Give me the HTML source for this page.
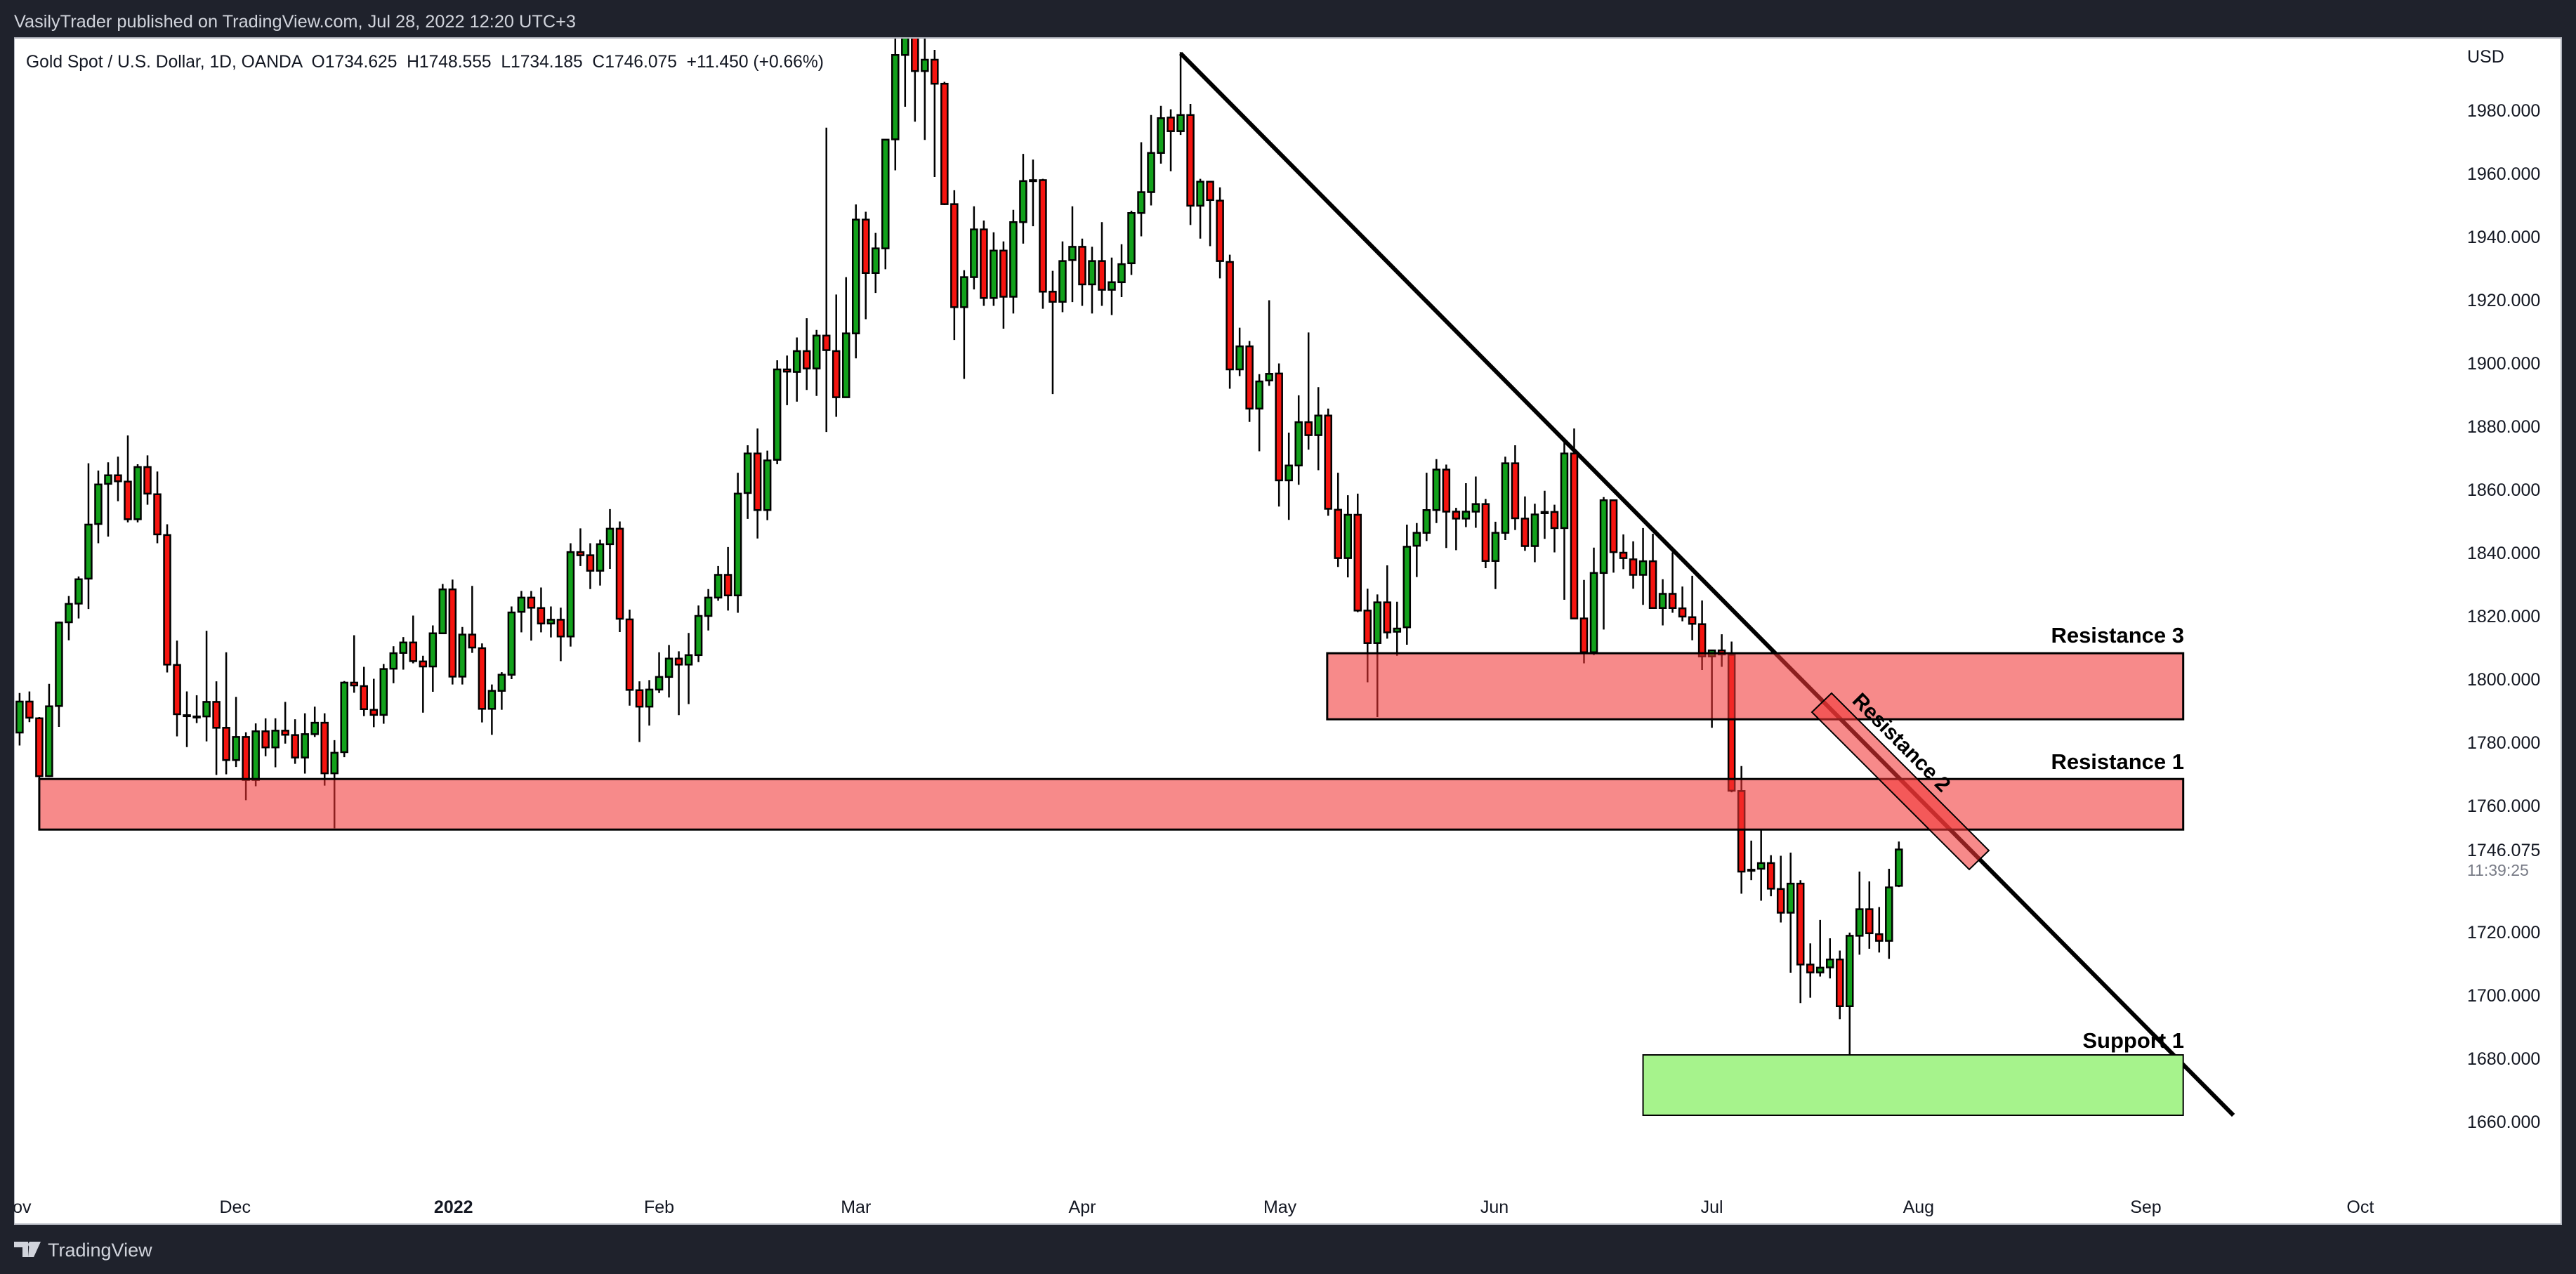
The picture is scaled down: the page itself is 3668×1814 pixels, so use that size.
<!DOCTYPE html>
<html><head><meta charset="utf-8"><style>
html,body{margin:0;padding:0;background:#1f222c;}
svg{display:block;}
</style></head><body>
<svg id="chart" width="3668" height="1814" viewBox="0 0 3668 1814" xmlns="http://www.w3.org/2000/svg">
<rect x="0" y="0" width="3668" height="1814" fill="#1f222c"/>
<text x="20" y="39" fill="#d1d4dc" font-family="Liberation Sans, sans-serif" font-size="25" textLength="800" lengthAdjust="spacingAndGlyphs">VasilyTrader published on TradingView.com, Jul 28, 2022 12:20 UTC+3</text>
<rect x="20" y="54" width="3627" height="1689" fill="#ffffff" stroke="#b2b5be" stroke-width="2"/>
<defs><clipPath id="pane"><rect x="21" y="55" width="3476" height="1640"/></clipPath></defs>
<g id="xlabels" font-family="Liberation Sans, sans-serif" font-size="25" fill="#131722"></g>
<g id="ylabels" font-family="Liberation Sans, sans-serif" font-size="25" fill="#131722"></g>
<text x="3513" y="89" font-family="Liberation Sans, sans-serif" font-size="25" fill="#131722">USD</text>
<g clip-path="url(#pane)">
<line id="trend" stroke="#000" stroke-width="6"/>
<g id="candles"></g>
<rect id="res3" fill="rgba(242,54,54,0.58)" stroke="#000" stroke-width="3"/>
<rect id="res1" fill="rgba(242,54,54,0.58)" stroke="#000" stroke-width="3"/>
<rect id="sup1" fill="#a6f38c" stroke="#000" stroke-width="2"/>
<polygon points="2608,987 2580,1014 2804,1238 2832,1211" fill="rgba(242,54,54,0.58)" stroke="#000" stroke-width="2"/>
</g>
<text x="3110" y="915" text-anchor="end" font-family="Liberation Sans, sans-serif" font-weight="bold" font-size="31" fill="#000">Resistance 3</text>
<text x="3110" y="1095" text-anchor="end" font-family="Liberation Sans, sans-serif" font-weight="bold" font-size="31" fill="#000">Resistance 1</text>
<text x="3110" y="1492" text-anchor="end" font-family="Liberation Sans, sans-serif" font-weight="bold" font-size="31" fill="#000">Support 1</text>
<text x="0" y="0" transform="translate(2636,999) rotate(45.3)" font-family="Liberation Sans, sans-serif" font-weight="bold" font-size="30" fill="#000">Resistance 2</text>
<text x="37" y="96" font-family="Liberation Sans, sans-serif" font-size="25" fill="#131722" textLength="1136" lengthAdjust="spacingAndGlyphs" xml:space="preserve">Gold Spot / U.S. Dollar, 1D, OANDA  O1734.625  H1748.555  L1734.185  C1746.075  +11.450 (+0.66%)</text>
<text x="3513" y="1219" font-family="Liberation Sans, sans-serif" font-size="25" fill="#131722">1746.075</text>
<text x="3513" y="1247" font-family="Liberation Sans, sans-serif" font-size="23" fill="#787b86">11:39:25</text>
<g>
<path d="M20 1768 H40 V1790 H32 V1776 H20 Z M42 1768 H58 L48 1790 H40 Z" fill="#d1d4dc"/>
<circle cx="44" cy="1772" r="4" fill="#d1d4dc"/>
<text x="68" y="1789" font-family="Liberation Sans, sans-serif" font-size="27" fill="#d1d4dc">TradingView</text>
</g>
</svg>
<script>
const opens=[1783.1,1792.9,1787.6,1769.3,1791.5,1818.0,1823.9,1831.8,1849.1,1861.8,1864.5,1862.5,1850.6,1867.1,1858.5,1845.6,1804.5,1788.6,1788.2,1788.2,1792.8,1784.6,1774.4,1781.7,1768.1,1783.5,1778.4,1783.7,1782.3,1775.2,1782.6,1786.2,1770.2,1776.9,1798.9,1797.8,1790.3,1788.7,1803.3,1808.3,1811.6,1805.6,1804.0,1814.5,1828.4,1800.8,1814.1,1809.8,1790.6,1796.3,1801.4,1821.3,1825.8,1822.5,1817.6,1818.8,1813.5,1840.2,1839.2,1834.3,1842.7,1847.6,1818.9,1796.5,1791.3,1796.7,1800.7,1806.5,1804.6,1807.6,1820.0,1825.8,1833.0,1826.5,1858.9,1871.4,1853.5,1869.4,1898.0,1897.2,1903.8,1898.3,1908.7,1903.8,1889.2,1909.4,1945.4,1928.5,1936.3,1970.8,1997.5,2050,1992.4,1996.0,1988.4,1950.3,1917.7,1927.2,1942.3,1920.6,1935.6,1921.0,1944.6,1957.9,1957.9,1922.6,1919.4,1932.6,1936.8,1924.9,1932.3,1923.2,1925.6,1931.6,1947.5,1954.1,1966.5,1977.7,1973.4,1978.5,1949.8,1957.4,1951.4,1932.0,1898.0,1905.3,1885.6,1894.5,1896.7,1862.9,1867.6,1881.3,1877.2,1883.4,1853.6,1838.3,1852.0,1821.7,1811.4,1824.3,1815.0,1816.4,1842.2,1846.3,1853.5,1866.3,1853.0,1850.8,1853.0,1855.4,1837.4,1846.3,1868.3,1850.8,1842.1,1852.5,1852.9,1847.8,1871.4,1819.2,1808.5,1833.6,1856.6,1840.0,1837.9,1833.0,1837.3,1822.5,1827.0,1822.4,1819.6,1817.4,1807.2,1809.1,1807.7,1764.6,1739.4,1740.0,1741.8,1733.6,1726.1,1735.3,1709.7,1707.2,1708.8,1711.3,1696.5,1718.8,1727.2,1719.3,1717.2,1734.6];
const highs=[1795.6,1796.1,1788.0,1798.5,1818.2,1826.3,1832.5,1868.3,1866.0,1868.6,1870.4,1877.1,1868.0,1870.8,1865.7,1849.0,1812.2,1796.1,1794.9,1815.3,1799.3,1808.5,1794.4,1783.2,1786.0,1787.6,1787.6,1792.8,1787.3,1789.2,1791.3,1789.2,1780.7,1799.4,1813.9,1803.9,1800.1,1804.8,1810.4,1813.3,1820.1,1807.4,1817.0,1830.1,1831.5,1816.5,1829.5,1811.3,1798.3,1802.2,1823.0,1827.9,1827.9,1829.0,1823.0,1822.6,1843.0,1847.7,1843.0,1844.1,1853.8,1849.9,1822.0,1799.3,1799.7,1808.5,1810.8,1808.8,1814.6,1823.3,1828.5,1835.8,1841.8,1865.3,1874.0,1879.3,1872.3,1900.9,1902.4,1908.1,1914.2,1910.5,1974.5,1921.7,1927.2,1950.2,1947.9,1941.2,1970.7,2002.8,2070,2070,2003,1999.1,1989.0,1954.7,1929.4,1949.6,1945.1,1941.4,1938.5,1948.5,1966.2,1964.4,1958.3,1929.2,1938.5,1949.6,1939.4,1936.8,1944.6,1933.4,1937.6,1948.2,1969.9,1978.5,1981.4,1980.3,1998.4,1982.0,1958.3,1957.4,1955.6,1934.3,1911.2,1907.0,1896.5,1919.9,1899.9,1878.0,1889.8,1909.7,1892.4,1885.6,1865.3,1858.2,1858.7,1828.6,1826.8,1836.0,1824.5,1848.9,1849.4,1865.3,1869.6,1867.9,1854.2,1862.0,1864.1,1857.0,1849.8,1870.4,1874.0,1857.8,1855.5,1859.6,1855.2,1875.2,1879.3,1831.4,1841.6,1857.6,1856.6,1845.8,1843.6,1847.8,1846.0,1831.6,1840.1,1829.3,1832.7,1824.9,1809.1,1814.2,1811.9,1772.5,1748.9,1752.3,1744.3,1744.1,1745.1,1736.4,1716.4,1723.8,1718.0,1714.1,1719.8,1739.1,1736.0,1727.9,1740.0,1748.6];
const lows=[1779.0,1786.4,1768.0,1769.0,1784.9,1812.3,1819.2,1822.2,1843.0,1845.1,1856.3,1849.6,1849.6,1855.2,1843.0,1802.1,1781.9,1778.5,1786.1,1780.3,1769.7,1769.9,1772.2,1761.7,1766.1,1775.6,1772.1,1779.6,1773.2,1770.1,1781.7,1766.3,1752.8,1775.3,1795.7,1788.3,1784.8,1785.9,1798.7,1803.0,1805.0,1789.4,1796.0,1814.3,1798.3,1798.3,1808.3,1786.3,1782.4,1790.3,1800.0,1814.8,1812.2,1814.8,1813.2,1805.7,1810.3,1835.8,1828.5,1829.6,1834.9,1814.9,1791.6,1780.1,1785.3,1795.6,1794.2,1788.6,1792.1,1805.4,1815.4,1824.8,1821.7,1821.0,1850.7,1844.5,1850.3,1868.0,1886.7,1887.8,1891.5,1889.6,1878.2,1883.0,1889.2,1901.5,1913.9,1922.2,1929.7,1961.0,1981.1,1976.4,1970.6,1958.9,1950.0,1907.3,1895.0,1923.3,1918.1,1918.1,1910.9,1915.7,1937.8,1943.3,1917.2,1890.2,1916.1,1919.3,1918.1,1915.7,1918.1,1915.2,1920.9,1927.9,1940.1,1949.9,1963.1,1960.7,1972.2,1943.7,1939.4,1937.0,1926.8,1891.9,1895.9,1881.4,1872.1,1892.8,1854.6,1850.4,1861.5,1872.6,1866.1,1851.7,1835.5,1832.2,1821.2,1799.0,1788.0,1812.8,1807.4,1810.9,1832.3,1843.7,1849.4,1841.5,1840.8,1848.1,1847.9,1835.1,1828.5,1844.0,1847.2,1840.6,1837.0,1844.4,1840.1,1825.1,1819.2,1805.0,1807.6,1815.7,1833.7,1834.8,1828.6,1823.5,1822.5,1817.0,1821.0,1818.3,1812.3,1802.9,1784.6,1803.9,1764.2,1732.1,1736.4,1729.9,1731.3,1723.0,1707.1,1697.5,1699.2,1705.9,1705.3,1692.4,1681.1,1712.8,1714.7,1713.5,1711.5,1734.2];
const closes=[1792.9,1787.8,1769.3,1791.4,1817.9,1823.8,1831.6,1848.9,1861.6,1864.5,1862.6,1850.6,1867.1,1858.7,1845.8,1804.6,1788.9,1788.6,1788.2,1792.8,1784.6,1774.4,1781.7,1768.1,1783.5,1778.4,1783.7,1782.4,1775.2,1782.6,1786.2,1770.2,1776.7,1798.9,1798.0,1790.5,1788.7,1803.2,1808.2,1811.6,1805.7,1804.0,1814.5,1828.4,1800.8,1814.1,1810.0,1790.6,1796.3,1801.4,1821.1,1825.8,1822.6,1817.6,1818.8,1813.5,1840.2,1839.2,1834.3,1842.7,1847.6,1819.1,1796.6,1791.3,1796.7,1800.7,1806.5,1804.6,1807.6,1820.0,1825.8,1833.0,1826.5,1858.7,1871.4,1853.5,1869.2,1898.0,1897.3,1903.8,1898.3,1908.7,1904.1,1889.2,1909.4,1945.4,1928.5,1936.3,1970.7,1997.5,2040,1992.4,1996.0,1988.4,1950.3,1917.7,1927.2,1942.3,1920.6,1935.6,1921.0,1944.6,1957.6,1957.9,1922.6,1919.4,1932.3,1936.8,1924.9,1932.3,1923.2,1925.6,1931.3,1947.5,1954.1,1966.5,1977.5,1973.4,1978.5,1949.8,1957.4,1951.6,1932.3,1898.0,1905.3,1885.6,1894.2,1896.6,1862.9,1867.6,1881.3,1877.2,1883.4,1853.9,1838.3,1852.0,1821.7,1811.4,1824.3,1814.8,1816.0,1841.9,1846.3,1853.5,1866.3,1853.0,1850.8,1853.0,1855.4,1837.4,1846.3,1868.3,1850.9,1842.1,1852.1,1852.9,1847.8,1871.4,1819.2,1808.5,1833.6,1856.6,1840.2,1838.3,1833.0,1837.3,1822.5,1827.0,1822.5,1819.8,1817.5,1807.2,1809.1,1807.8,1764.7,1739.1,1739.7,1741.8,1733.7,1726.1,1735.3,1709.7,1707.2,1708.7,1711.3,1696.5,1718.8,1727.2,1719.6,1717.2,1734.1,1746.1];
const monthLabels=["Nov","Dec","2022","Feb","Mar","Apr","May","Jun","Jul","Aug","Sep","Oct"];
const monthBars=[-0.4,21.9,44.1,65,85,108,128.1,149.9,172,193,216.1,237.9];
const priceTicks=[1980,1960,1940,1920,1900,1880,1860,1840,1820,1800,1780,1760,1720,1700,1680,1660];
const trendStart=[118,1998];
const trendEnd=[225,1662];
const res3Zone=[132.9,1808.2,1787.3];
const res1Zone=[2.0,1768.4,1752.4];
const sup1Zone=[165,1681.1,1662];
const zoneEndBar=219.9;

const NS="http://www.w3.org/2000/svg";
function xOf(i){return 27.9+i*14.01;}
function yOf(p){return 157+(1980-p)*4.5;}
function mk(tag,attrs,parent){const e=document.createElementNS(NS,tag);for(const k in attrs)e.setAttribute(k,attrs[k]);parent.appendChild(e);return e;}

const cg=document.getElementById('candles');
for(let i=0;i<opens.length;i++){
  const x=xOf(i),o=opens[i],c=closes[i],h=highs[i],l=lows[i];
  const g=mk('g',{},cg);
  
  
  mk('line',{x1:x,x2:x,y1:yOf(h),y2:yOf(l),stroke:'#000','stroke-width':2.5},g);
  const top=yOf(Math.max(o,c)),bot=yOf(Math.min(o,c));
  mk('rect',{x:x-4.5,y:top,width:9,height:Math.max(bot-top,1.5),fill:c>=o?'#12a11b':'#f5140f',stroke:'#000','stroke-width':2.5},g);
}
const tr=document.getElementById('trend');
tr.setAttribute('x1',xOf(trendStart[0]));tr.setAttribute('y1',yOf(trendStart[1]));
tr.setAttribute('x2',xOf(trendEnd[0]));tr.setAttribute('y2',yOf(trendEnd[1]));
function zone(id,z){const r=document.getElementById(id);const x0=xOf(z[0]);r.setAttribute('x',x0);r.setAttribute('y',yOf(z[1]));r.setAttribute('width',xOf(zoneEndBar)-x0);r.setAttribute('height',yOf(z[2])-yOf(z[1]));}
zone('res3',res3Zone);
zone('res1',res1Zone);
zone('sup1',sup1Zone);

const xg=document.getElementById('xlabels');
monthLabels.forEach((m,k)=>{
  const t=mk('text',{x:xOf(monthBars[k]),y:1727,'text-anchor':'middle'},xg);
  
  
  if(m==='2022')t.setAttribute('font-weight','bold');
  t.textContent=m;
});
const yg=document.getElementById('ylabels');
priceTicks.forEach(p=>{
  const t=mk('text',{x:3513,y:yOf(p)+9},yg);
  
  
  t.textContent=p.toFixed(3);
});
</script>
<div style="position:absolute;left:0;top:0;width:20px;height:1814px;background:#1f222c"></div>
</body></html>
